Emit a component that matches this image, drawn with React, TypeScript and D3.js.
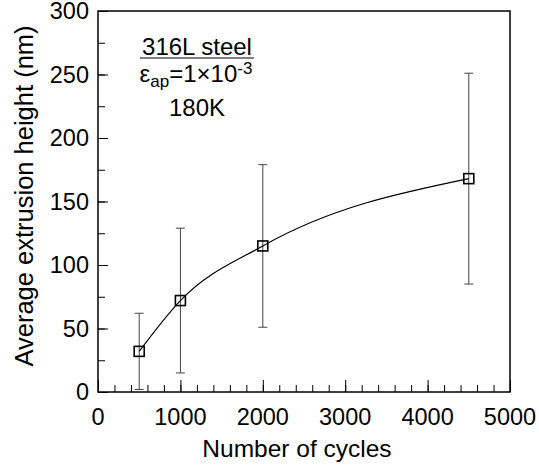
import React, { useRef, useEffect } from 'react';
import * as d3 from 'd3';

const cycles = [500, 1000, 2000, 4500];
const heights = [32, 72, 115, 168];
const errLow = [2, 15, 51, 85];
const errHigh = [62, 129, 179, 251];
const xTicks = [0, 1000, 2000, 3000, 4000, 5000];
const yTicks = [0, 50, 100, 150, 200, 250, 300];

const width = 539;
const height = 465;
const marginLeft = 98;
const marginRight = 29;
const marginTop = 11;
const marginBottom = 73;
const font = '"Liberation Sans", Arial, sans-serif';

const x = d3.scaleLinear().domain([0, 5000]).range([marginLeft, width - marginRight]);
const y = d3.scaleLinear().domain([0, 300]).range([height - marginBottom, marginTop]);

function drawChart(g: SVGGElement) {
  const root = d3.select(g);
  root.selectAll('*').remove();
  const bottom = height - marginBottom;

  // minor + major ticks, pointing inward
  root.append('g')
    .attr('transform', `translate(0,${bottom})`)
    .call(d3.axisBottom(x).tickValues(d3.range(0, 5001, 200)).tickSize(-7).tickFormat(() => ''))
    .call(a => a.select('.domain').remove());
  root.append('g')
    .attr('transform', `translate(0,${bottom})`)
    .call(d3.axisBottom(x).tickValues(xTicks).tickSize(-12).tickFormat(() => ''))
    .call(a => a.select('.domain').remove());
  root.append('g')
    .attr('transform', `translate(${marginLeft},0)`)
    .call(d3.axisLeft(y).tickValues(d3.range(0, 301, 25)).tickSize(-7).tickFormat(() => ''))
    .call(a => a.select('.domain').remove());
  root.append('g')
    .attr('transform', `translate(${marginLeft},0)`)
    .call(d3.axisLeft(y).tickValues(yTicks).tickSize(-10).tickFormat(() => ''))
    .call(a => a.select('.domain').remove());
  root.selectAll('.tick line').attr('stroke', '#000').attr('stroke-width', 1);

  root.append('rect')
    .attr('x', marginLeft).attr('y', marginTop)
    .attr('width', x(5000) - marginLeft).attr('height', bottom - marginTop)
    .attr('fill', 'none').attr('stroke', '#000').attr('stroke-width', 1.5);

  root.selectAll('text.xt').data(xTicks).join('text')
    .attr('class', 'xt')
    .attr('x', d => x(d)).attr('y', 425)
    .attr('font-size', 23.5)
    .attr('text-anchor', 'middle')
    .text(d => d);
  root.selectAll('text.yt').data(yTicks).join('text')
    .attr('class', 'yt')
    .attr('x', 89).attr('y', d => y(d)).attr('dy', '0.36em')
    .attr('font-size', 23.5)
    .attr('text-anchor', 'end')
    .text(d => d);

  root.append('text')
    .attr('x', (marginLeft + x(5000)) / 2 - 7).attr('y', 457)
    .attr('font-size', 24.5)
    .attr('text-anchor', 'middle')
    .text('Number of cycles');
  root.append('text')
    .attr('transform', 'rotate(-90)')
    .attr('x', -196).attr('y', 33)
    .attr('font-size', 25.5)
    .attr('text-anchor', 'middle')
    .text('Average extrusion height (nm)');

  // error bars
  const cap = 4.5;
  const bars = root.append('g').attr('stroke', '#444').attr('stroke-width', 1);
  cycles.forEach((c, i) => {
    bars.append('line').attr('x1', x(c)).attr('x2', x(c)).attr('y1', y(errLow[i])).attr('y2', y(errHigh[i]));
    bars.append('line').attr('x1', x(c) - cap).attr('x2', x(c) + cap).attr('y1', y(errLow[i])).attr('y2', y(errLow[i]));
    bars.append('line').attr('x1', x(c) - cap).attr('x2', x(c) + cap).attr('y1', y(errHigh[i])).attr('y2', y(errHigh[i]));
  });

  const line = d3.line<number>()
    .x((d, i) => x(cycles[i]))
    .y(d => y(d))
    .curve(d3.curveMonotoneX);
  root.append('path')
    .attr('d', line(heights))
    .attr('fill', 'none').attr('stroke', '#000').attr('stroke-width', 1.2);

  const s = 10;
  root.selectAll('rect.pt').data(heights).join('rect')
    .attr('class', 'pt')
    .attr('x', (d, i) => x(cycles[i]) - s / 2).attr('y', d => y(d) - s / 2)
    .attr('width', s).attr('height', s)
    .attr('fill', 'none').attr('stroke', '#000').attr('stroke-width', 1.6);

  // annotation
  const note = root.append('g').attr('text-anchor', 'middle').attr('font-size', 24);
  note.append('text').attr('x', 197).attr('y', 55).text('316L steel');
  note.append('line').attr('x1', 140).attr('x2', 254).attr('y1', 58).attr('y2', 58)
    .attr('stroke', '#000').attr('stroke-width', 1.2);
  const eps = note.append('text').attr('x', 196).attr('y', 82);
  eps.append('tspan').text('ε');
  eps.append('tspan').attr('dy', 5).attr('font-size', 17).text('ap');
  eps.append('tspan').attr('dy', -5).text('=1×10');
  eps.append('tspan').attr('dy', -8).attr('font-size', 17).text('-3');
  note.append('text').attr('x', 197).attr('y', 116).text('180K');
}

const App = () => {
  const ref = useRef<SVGGElement>(null);
  useEffect(() => {
    if (ref.current) drawChart(ref.current);
  }, [ref]);
  return (
    <svg width={width} height={height}
      style={{ position: 'absolute', left: 0, top: 0, background: '#fff' }}
      fontFamily={font} fontSize={21} fill="#000">
      <g ref={ref}></g>
    </svg>
  );
};

export default App;
